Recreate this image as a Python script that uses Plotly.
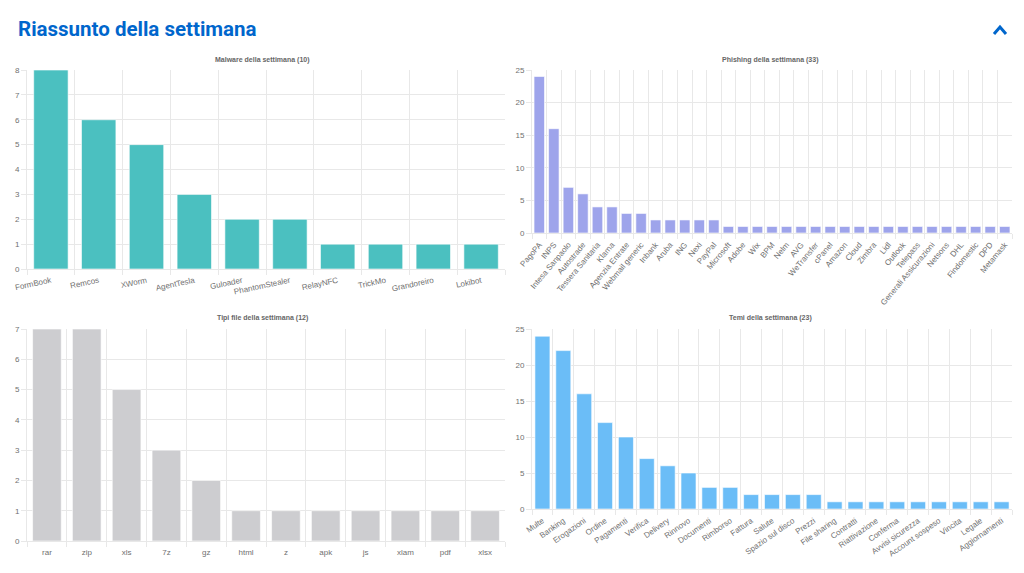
import plotly.graph_objects as go

W, H = 1024, 573

malware_labels = ["FormBook", "Remcos", "XWorm", "AgentTesla", "Guloader", "PhantomStealer",
                  "RelayNFC", "TrickMo", "Grandoreiro", "Lokibot"]
malware_values = [8, 6, 5, 3, 2, 2, 1, 1, 1, 1]

phishing_labels = ["PagoPA", "INPS", "Intesa Sanpaolo", "Autostrade", "Tessera Sanitaria", "Klarna",
                   "Agenzia Entrate", "Webmail generic", "Inbank", "Aruba", "ING", "Nexi", "PayPal",
                   "Microsoft", "Adobe", "Wix", "BPM", "Nelm", "AVG", "WeTransfer", "cPanel", "Amazon",
                   "Cloud", "Zimbra", "Lidl", "Outlook", "Telepass", "Generali Assicurazioni", "Netsons",
                   "DHL", "Findomestic", "DPD", "Metamask"]
phishing_values = [24, 16, 7, 6, 4, 4, 3, 3, 2, 2, 2, 2, 2,
                   1, 1, 1, 1, 1, 1, 1, 1, 1, 1, 1, 1, 1, 1, 1, 1, 1, 1, 1, 1]

filetype_labels = ["rar", "zip", "xls", "7z", "gz", "html", "z", "apk", "js", "xlam", "pdf", "xlsx"]
filetype_values = [7, 7, 5, 3, 2, 1, 1, 1, 1, 1, 1, 1]

theme_labels = ["Multe", "Banking", "Erogazioni", "Ordine", "Pagamenti", "Verifica", "Delivery",
                "Rinnovo", "Documenti", "Rimborso", "Fattura", "Salute", "Spazio sul disco", "Prezzi",
                "File sharing", "Contratti", "Riattivazione", "Conferma", "Avvisi sicurezza",
                "Account sospeso", "Vincita", "Legale", "Aggiornamenti"]
theme_values = [24, 22, 16, 12, 10, 7, 6, 5, 3, 3, 2, 2, 2, 2, 1, 1, 1, 1, 1, 1, 1, 1, 1]

titles = ["Malware della settimana (10)", "Phishing della settimana (33)",
          "Tipi file della settimana (12)", "Temi della settimana (23)"]

def px(x):
    return x / W

def py(y):
    return 1 - y / H

panels = [
    # labels, values, color, x domain px, y domain px (top,bottom), ymax, dtick, tickangle, title pos
    (malware_labels, malware_values, "#4BC0C0", (27, 505), (70, 269), 8, 1, -12, (262, 60)),
    (phishing_labels, phishing_values, "#9EA4EB", (532, 1012), (70, 233), 25, 5, -50, (770, 60)),
    (filetype_labels, filetype_values, "#CDCDD0", (27, 505), (329, 541), 7, 1, 0, (262, 318)),
    (theme_labels, theme_values, "#6BBDF7", (532, 1012), (329, 509), 25, 5, -35, (770, 318)),
]

fig = go.Figure()
grid = "#E8E8E8"
tickfont = dict(family="Liberation Sans, Arial, sans-serif", size=8, color="#707070")
annotations = []
layout = {}
for i, (labels, values, color, xd, yd, ymax, dt, ang, tpos) in enumerate(panels):
    n = i + 1
    sx = "" if n == 1 else str(n)
    fig.add_trace(go.Bar(
        x=labels, y=values, marker=dict(color=color, line=dict(color="rgba(255,255,255,0.6)", width=1)),
        xaxis="x" + sx, yaxis="y" + sx, showlegend=False, hoverinfo="x+y"))
    layout["xaxis" + sx] = dict(
        domain=[px(xd[0]), px(xd[1])], anchor="y" + sx, type="category",
        tickson="boundaries", showgrid=True, gridcolor=grid, gridwidth=1,
        ticks="outside", ticklen=5, tickcolor=grid, tickangle=ang, ticklabelstandoff=3,
        showline=True, linecolor=grid, linewidth=1,
        tickfont=tickfont, range=[-0.5, len(labels) - 0.5], fixedrange=True, automargin=False)
    layout["yaxis" + sx] = dict(
        domain=[py(yd[1]), py(yd[0])], anchor="x" + sx, range=[0, ymax], dtick=dt,
        showgrid=True, gridcolor=grid, gridwidth=1, zeroline=False,
        ticks="outside", ticklen=5, tickcolor=grid,
        showline=True, linecolor=grid, linewidth=1,
        tickfont=tickfont, fixedrange=True, automargin=False)
    annotations.append(dict(
        text="<b>" + titles[i] + "</b>", x=px(tpos[0]), y=py(tpos[1]), xref="paper", yref="paper",
        showarrow=False, xanchor="center", yanchor="middle",
        font=dict(family="Liberation Sans, Arial, sans-serif", size=7, color="#666666")))

annotations.append(dict(
    text="<b>Riassunto della settimana</b>", x=px(16), y=py(29), xref="paper", yref="paper",
    showarrow=False, xanchor="left", yanchor="middle",
    font=dict(family="Roboto, sans-serif", size=20.5, color="#0066CC")))

fig.update_layout(
    width=W, height=H, margin=dict(l=0, r=0, t=0, b=0),
    paper_bgcolor="white", plot_bgcolor="white", bargap=0.28,
    annotations=annotations,
    shapes=[dict(type="path", xref="paper", yref="paper",
                 path=f"M {px(994)} {py(34)} L {px(1000)} {py(27)} L {px(1006)} {py(34)}",
                 line=dict(color="#0066CC", width=3))],
    **layout)

fig.write_html("out.html")
